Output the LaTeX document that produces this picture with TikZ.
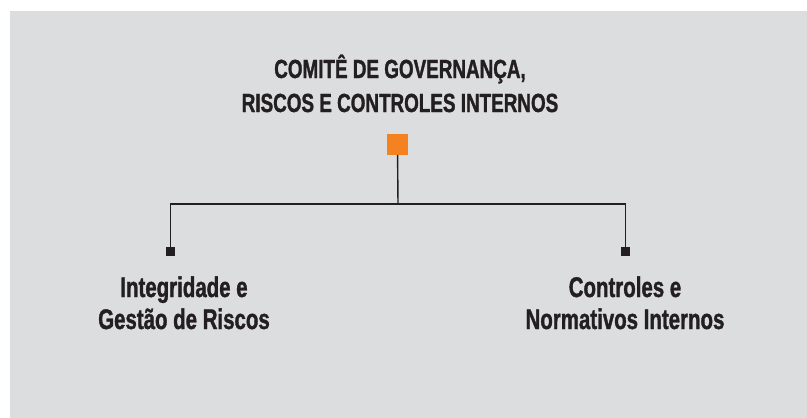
\documentclass[tikz,border=0pt]{standalone}
\usepackage{fontspec}
\setmainfont{Liberation Sans}[FakeStretch=0.72, BoldFeatures={FakeBold=1.2}]
\usepackage{tikz}
\definecolor{panel}{HTML}{DCDDDF}
\definecolor{boxorange}{HTML}{F58220}
\definecolor{ink}{HTML}{231F20}

\begin{document}
\begin{tikzpicture}[x=1pt, y=-1pt, every node/.style={text=ink, font=\bfseries}, sq/.style={fill=boxorange, minimum size=20.5pt, inner sep=0pt}, pin/.style={fill=ink, minimum size=9pt, inner sep=0pt}, lbl/.style={align=center, anchor=base, inner sep=0pt, font=\bfseries\fontsize{28.4}{32}\selectfont}]
	\useasboundingbox (0,0) rectangle (807,418);
	\fill[panel] (10,11) rectangle (807,418);
	\node[lbl, font=\bfseries\fontsize{26.2}{34}\selectfont] (title) at (400,112) {COMITÊ DE GOVERNANÇA,\\RISCOS E CONTROLES INTERNOS};
	\node[sq] (boss) at (397.5,144.5) {};
	\coordinate (junc) at (398,204);
	\node[pin] (lpin) at (170.5,251.5) {};
	\node[pin] (rpin) at (625.5,251.5) {};
	\draw[ink, line width=1.4pt] (boss) -- (junc);
	\draw[ink, line width=1.4pt] (junc) -| (lpin);
	\draw[ink, line width=1.4pt] (junc) -| (rpin);
	\node[lbl] (left) at (184,329) {Integridade e\\Gestão de Riscos};
	\node[lbl] (right) at (625,329) {Controles e\\Normativos Internos};
\end{tikzpicture}
\end{document}
